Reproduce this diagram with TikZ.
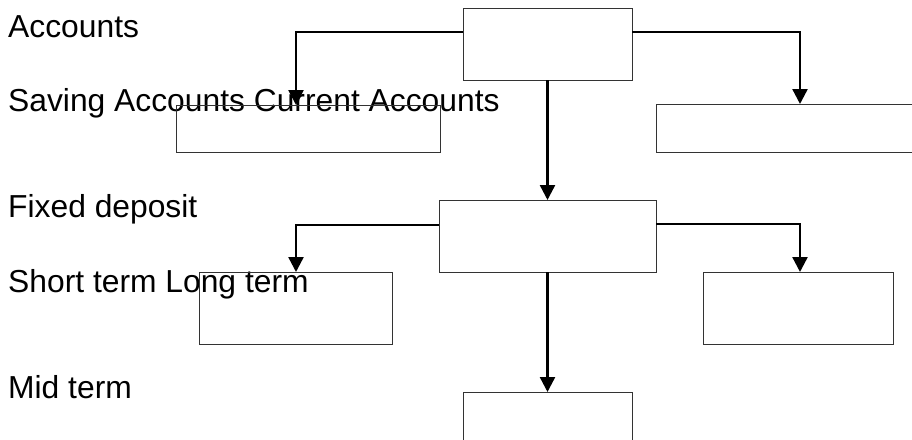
\documentclass[tikz,border=0pt]{standalone}
\usepackage{fontspec}
\setmainfont{Liberation Sans}
\usetikzlibrary{arrows.meta}
\begin{document}
\begin{tikzpicture}[x=1pt,y=-1pt,
  box/.style={draw=black!80,line width=1pt,minimum width=#1,inner sep=0pt,outer sep=0pt},
  lbl/.style={anchor=base west,inner sep=0pt,font=\fontsize{31.8}{36}\selectfont},
  conn/.style={draw=black,line width=2.4pt,-{Triangle[width=15pt,length=15pt]}}]
\useasboundingbox (0,0) rectangle (912,439);
\clip (0,0) rectangle (912,439);
% labels
\node[lbl] (t1) at (8,37) {Accounts};
\node[lbl] (t2) at (8,111) {Saving Accounts Current Accounts};
\node[lbl] (t3) at (8,217) {Fixed deposit};
\node[lbl] (t4) at (8,292) {Short term Long term};
\node[lbl] (t5) at (8,398) {Mid term};
% boxes
\node[box=169pt,minimum height=72pt] (b1) at (547.5,44) {};
\node[box=264pt,minimum height=47pt] (bsave) at (308,128.5) {};
\node[box=288pt,minimum height=48pt] (bcur) at (800,128) {};
\node[box=217pt,minimum height=72pt] (b2) at (547.5,236) {};
\node[box=193pt,minimum height=72pt] (bshort) at (295.5,308) {};
\node[box=190pt,minimum height=72pt] (blong) at (798,308) {};
\node[box=169pt,minimum height=72pt] (b3) at (547.5,428) {};
% connectors
\draw[conn] ([yshift=12pt]b1.west) -| ([xshift=-12pt]bsave.north);
\draw[conn] ([yshift=12pt]b1.east) -| (bcur.north);
\draw[conn] (b1.south) -- (b2.north);
\draw[conn] ([yshift=11pt]b2.west) -| ([xshift=0.5pt]bshort.north);
\draw[conn] ([yshift=12pt]b2.east) -| ([xshift=2pt]blong.north);
\draw[conn] (b2.south) -- (b3.north);
\end{tikzpicture}
\end{document}
